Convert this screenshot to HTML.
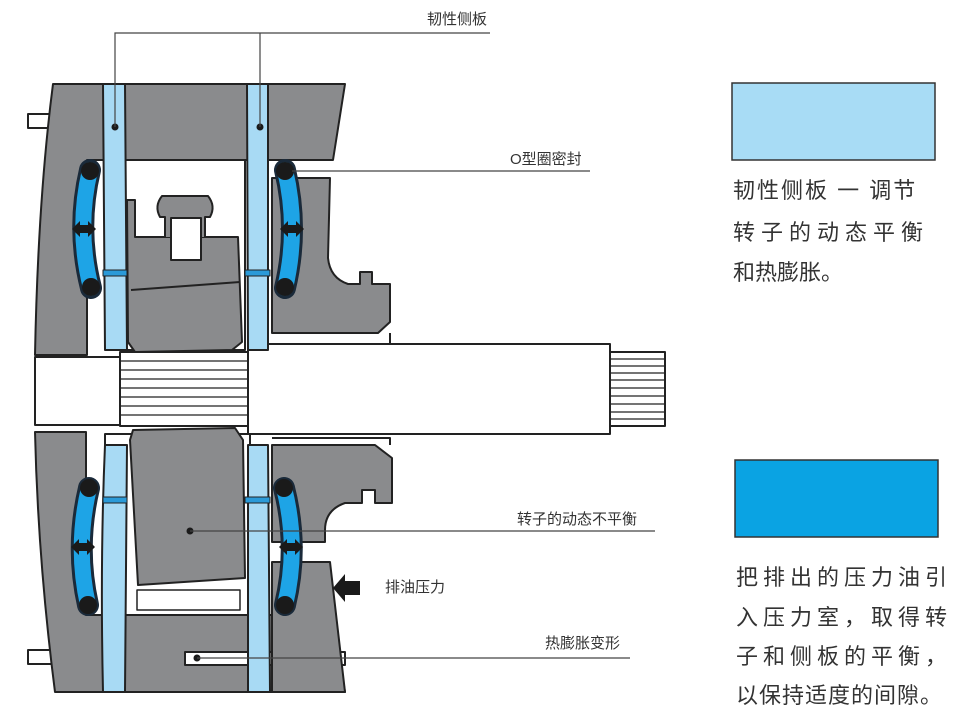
<!DOCTYPE html>
<html><head><meta charset="utf-8"><style>
html,body{margin:0;padding:0;background:#fff;}
svg{display:block;}
.t{font-family:"Liberation Sans","Noto Sans CJK SC",sans-serif;fill:#333;}
</style></head><body>
<svg width="968" height="707" viewBox="0 0 968 707" xmlns="http://www.w3.org/2000/svg">
<g stroke="#222" stroke-width="2" stroke-linejoin="round">
<!-- top housing -->
<rect x="28" y="114" width="26" height="14" fill="#fff"/>
<path d="M53,84 L345,84 L333,160 L87,160 L87,355 L35,355 Q38,200 53,84 Z" fill="#8a8b8d"/>
<!-- bottom housing -->
<rect x="28" y="650" width="26" height="14" fill="#fff"/>
<path d="M35,432 L86,432 L86,615 L330,615 L338,650 L345,692 L55,692 Q38,560 35,432 Z" fill="#8a8b8d"/>
<path d="M185,652 L345,652 L345,665 L185,665 Z" fill="#fff"/>
<!-- cavity top -->
<rect x="125" y="160" width="120" height="190" fill="#fff"/>
<path d="M127,200 L135,200 L135,237 L238,237 L242,342 L232,350 L135,352 L128,342 Z" fill="#8a8b8d"/>
<path d="M131,290 L240,282" fill="none"/>
<path d="M165,237 L165,217 L160,217 Q154,206 162,196 L208,196 Q216,206 210,217 L205,217 L205,237" fill="#8a8b8d"/>
<rect x="171" y="218" width="30" height="42" fill="#fff"/>
<!-- right middle top piece -->
<path d="M296,178 L330,178 L328,258 Q330,278 348,284 L360,284 L360,272 L372,272 L372,284 L390,284 L390,322 L378,333 L272,333 L272,178 Z" fill="#8a8b8d"/>
<path d="M268,345 L390,345 L390,333" fill="none"/>
<!-- shaft -->
<rect x="35" y="357" width="90" height="68" fill="#fff"/>
<rect x="120" y="352" width="130" height="74" fill="#fff"/>
<g stroke-width="1.2">
<line x1="120" y1="361" x2="250" y2="361"/><line x1="120" y1="370" x2="250" y2="370"/><line x1="120" y1="379" x2="250" y2="379"/><line x1="120" y1="388" x2="250" y2="388"/><line x1="120" y1="397" x2="250" y2="397"/><line x1="120" y1="406" x2="250" y2="406"/><line x1="120" y1="415" x2="250" y2="415"/>
</g>
<rect x="248" y="344" width="362" height="90" fill="#fff"/>
<rect x="610" y="352" width="55" height="74" fill="#fff"/>
<g stroke-width="1.2">
<line x1="610" y1="359" x2="665" y2="359"/><line x1="610" y1="366" x2="665" y2="366"/><line x1="610" y1="373" x2="665" y2="373"/><line x1="610" y1="380" x2="665" y2="380"/><line x1="610" y1="388" x2="665" y2="388"/><line x1="610" y1="396" x2="665" y2="396"/><line x1="610" y1="404" x2="665" y2="404"/><line x1="610" y1="412" x2="665" y2="412"/><line x1="610" y1="419" x2="665" y2="419"/>
</g>
<!-- lower cavity -->
<rect x="105" y="434" width="145" height="181" fill="#fff"/>
<path d="M133,430 L235,428 L243,440 L245,578 L138,585 L130,440 Z" fill="#8a8b8d"/>
<path d="M137,590 L240,590 L240,610 L137,610 Z" fill="#fff" stroke-width="1.5"/>
<!-- lower right pieces -->
<path d="M272,445 L375,445 L392,458 L392,503 L375,503 L375,490 L362,490 L362,503 L345,503 Q325,510 325,530 L325,542 L272,542 Z" fill="#8a8b8d"/>
<path d="M272,562 L330,562 L345,692 L272,692 Z" fill="#8a8b8d"/>
<path d="M272,438 L390,438 L390,445" fill="none"/>
<!-- plates -->
<path d="M103,84 L125,84 L127,350 L105,350 Z" fill="#a8daf4"/>
<path d="M247,84 L268,84 L268,350 L248,350 Z" fill="#a8daf4"/>
<path d="M105,445 L127,445 L125,692 L103,692 Q100,560 105,445 Z" fill="#a8daf4"/>
<path d="M248,445 L268,445 L270,692 L248,692 Z" fill="#a8daf4"/>
<!-- small plate ribs -->
<rect x="103" y="270" width="24" height="6" fill="#2a9ad8" stroke-width="1"/>
<rect x="245" y="270" width="25" height="6" fill="#2a9ad8" stroke-width="1"/>
<rect x="103" y="497" width="24" height="6" fill="#2a9ad8" stroke-width="1"/>
<rect x="245" y="497" width="25" height="6" fill="#2a9ad8" stroke-width="1"/>
</g>
<!-- seals -->
<g fill="none" stroke-linecap="round">
<g stroke="#1a2a3a" stroke-width="22">
<path d="M90,170 Q76,229 91,288"/><path d="M285,170 Q299,229 285,288"/>
<path d="M89,488 Q75,547 88,605"/><path d="M284,488 Q299,547 285,605"/>
</g>
<g stroke="#1ea4e6" stroke-width="16">
<path d="M90,170 Q76,229 91,288"/><path d="M285,170 Q299,229 285,288"/>
<path d="M89,488 Q75,547 88,605"/><path d="M284,488 Q299,547 285,605"/>
</g>
</g>
<g fill="#1a1a1a">
<circle cx="90" cy="171" r="9"/><circle cx="91" cy="287" r="9"/>
<circle cx="285" cy="171" r="9"/><circle cx="285" cy="287" r="9"/>
<circle cx="89" cy="488" r="9"/><circle cx="88" cy="605" r="9"/>
<circle cx="284" cy="488" r="9"/><circle cx="285" cy="605" r="9"/>
<path d="M72,229 L80,221 L80,225 L88,225 L88,221 L96,229 L88,237 L88,233 L80,233 L80,237 Z"/>
<path d="M280,229 L288,221 L288,225 L296,225 L296,221 L304,229 L296,237 L296,233 L288,233 L288,237 Z"/>
<path d="M71,547 L79,539 L79,543 L87,543 L87,539 L95,547 L87,555 L87,551 L79,551 L79,555 Z"/>
<path d="M279,547 L287,539 L287,543 L295,543 L295,539 L303,547 L295,555 L295,551 L287,551 L287,555 Z"/>
<path d="M333,588 L345,574 L345,581 L360,581 L360,595 L345,595 L345,602 Z"/>
<circle cx="115" cy="127" r="3.5"/><circle cx="260" cy="127" r="3.5"/>
<circle cx="190" cy="531" r="3.5"/><circle cx="197" cy="658" r="3.5"/>
</g>
<!-- leader lines -->
<g stroke="#444" stroke-width="1.2" fill="none">
<path d="M115,127 L115,33 L490,33"/><path d="M260,127 L260,33"/>
<path d="M292,171 L590,171"/>
<path d="M190,531 L655,531"/>
<path d="M197,658 L630,658"/>
</g>
<text class="t" x="427" y="24" font-size="15">韧性侧板</text>
<text class="t" x="510" y="164" font-size="15">O型圈密封</text>
<text class="t" x="517" y="524" font-size="15">转子的动态不平衡</text>
<text class="t" x="385" y="592" font-size="15">排油压力</text>
<text class="t" x="545" y="648" font-size="15">热膨胀变形</text>
<!-- legend -->
<rect x="732" y="83" width="203" height="77" fill="#a8dcf5" stroke="#333" stroke-width="1.5"/>
<rect x="735" y="460" width="203" height="77" fill="#0aa3e3" stroke="#333" stroke-width="1.5"/>
<g class="t" font-size="22">
<text x="733" y="198" letter-spacing="2">韧性侧板 一 调节</text>
<text x="733" y="240" letter-spacing="6">转子的动态平衡</text>
<text x="733" y="280">和热膨胀。</text>
<text x="736" y="585" letter-spacing="5">把排出的压力油引</text>
<text x="736" y="625" letter-spacing="5">入压力室，取得转</text>
<text x="736" y="664" letter-spacing="5">子和侧板的平衡，</text>
<text x="736" y="703" letter-spacing="1">以保持适度的间隙。</text>
</g>
</svg>
</body></html>
